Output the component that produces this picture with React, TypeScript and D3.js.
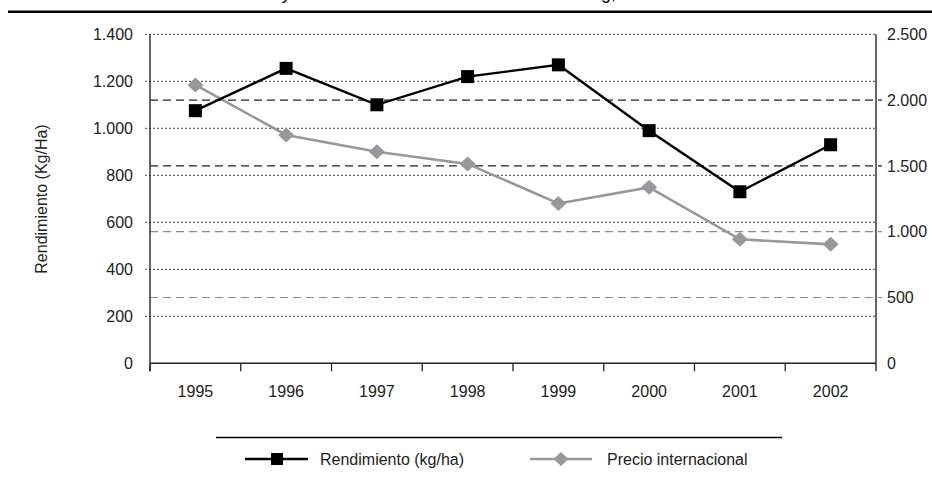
import React from "react";
import * as d3 from "d3";

const years = ["1995", "1996", "1997", "1998", "1999", "2000", "2001", "2002"];
const rendimiento = [1075, 1255, 1100, 1220, 1270, 990, 730, 930];
const precio = [2115, 1735, 1608, 1515, 1215, 1337, 942, 904];
const leftTicks = [0, 200, 400, 600, 800, 1000, 1200, 1400];
const rightTicks = [0, 500, 1000, 1500, 2000, 2500];
const legendLabels = ["Rendimiento (kg/ha)", "Precio internacional"];
const yTitle = "Rendimiento (Kg/Ha)";
const title = "Rendimiento y cotización internacional en dólares el kg, 1995-2002";

const W = 932;
const H = 479;
const FONT = "'Liberation Sans', Arial, Helvetica, sans-serif";

export default function App() {
  const left = 150;
  const right = 876;
  const top = 34.3;
  const bottom = 363.3;
  const x = d3.scaleBand<string>().domain(years).range([left, right]).padding(0);
  const yL = d3.scaleLinear().domain([0, 1400]).range([bottom, top]);
  const yR = d3.scaleLinear().domain([0, 2500]).range([bottom, top]);
  const cx = (d: string) => (x(d) as number) + x.bandwidth() / 2;

  const lineL = d3
    .line<number>()
    .x((_, i) => cx(years[i]))
    .y((v) => yL(v));
  const lineR = d3
    .line<number>()
    .x((_, i) => cx(years[i]))
    .y((v) => yR(v));

  const sq = 13;
  const diamond = (px: number, py: number, w: number, h: number) =>
    `M${px},${py - h / 2}L${px + w / 2},${py}L${px},${py + h / 2}L${px - w / 2},${py}Z`;

  const black = "#000";
  const gray = "#98989c";

  return (
    <svg
      width={W}
      height={H}
      style={{ position: "absolute", left: 0, top: 0, background: "#fff" }}
      fontFamily={FONT}
    >
      {/* cut-off title (only descenders show) */}
      <text x={177} y={-0.6} fontSize={17.8} fill="#000">
        {title}
      </text>
      <line x1={8} x2={932} y1={11.8} y2={11.8} stroke="#000" strokeWidth={2.6} />

      {/* left dotted gridlines */}
      {leftTicks
        .filter((t) => t > 0)
        .map((t) => (
          <line
            key={"gl" + t}
            x1={left - 5}
            x2={right}
            y1={yL(t)}
            y2={yL(t)}
            stroke="#444"
            strokeWidth={1}
            strokeDasharray="2,2"
          />
        ))}
      {/* right dashed gridlines */}
      {rightTicks
        .filter((t) => t > 0 && t < 2500)
        .map((t) => (
          <line
            key={"gr" + t}
            x1={left}
            x2={right + 6}
            y1={yR(t)}
            y2={yR(t)}
            stroke={t >= 1500 ? "#222" : "#8a8a8a"}
            strokeWidth={1.2}
            strokeDasharray="8,5"
          />
        ))}

      {/* axes */}
      <line x1={left} x2={left} y1={top} y2={bottom + 8} stroke="#333" strokeWidth={1.5} />
      <line x1={right} x2={right} y1={top} y2={bottom + 8} stroke="#333" strokeWidth={1.5} />
      <line x1={left} x2={right} y1={bottom} y2={bottom} stroke="#222" strokeWidth={1.5} />
      {years.map((d) => (
        <line
          key={"xt" + d}
          x1={x(d) as number}
          x2={x(d) as number}
          y1={bottom}
          y2={bottom + 8}
          stroke="#222"
          strokeWidth={1.3}
        />
      ))}

      {/* tick labels */}
      {leftTicks.map((t) => (
        <text
          key={"lt" + t}
          x={133}
          y={yL(t)}
          dy="0.36em"
          textAnchor="end"
          fontSize={16}
          fill="#222"
        >
          {d3.format(",")(t).replace(/,/g, ".")}
        </text>
      ))}
      {rightTicks.map((t) => (
        <text
          key={"rt" + t}
          x={887}
          y={yR(t)}
          dy="0.36em"
          textAnchor="start"
          fontSize={16}
          fill="#222"
        >
          {d3.format(",")(t).replace(/,/g, ".")}
        </text>
      ))}
      {years.map((d) => (
        <text key={"yl" + d} x={cx(d)} y={397} textAnchor="middle" fontSize={16} fill="#222">
          {d}
        </text>
      ))}

      {/* y title */}
      <text
        transform={`translate(41,199) rotate(-90)`}
        textAnchor="middle"
        dominantBaseline="central"
        fontSize={16}
        fill="#222"
      >
        {yTitle}
      </text>

      {/* series */}
      <path d={lineR(precio) || ""} fill="none" stroke={gray} strokeWidth={2.6} />
      {precio.map((v, i) => (
        <path key={"pd" + i} d={diamond(cx(years[i]), yR(v), 16, 15)} fill={gray} />
      ))}
      <path d={lineL(rendimiento) || ""} fill="none" stroke={black} strokeWidth={2.4} />
      {rendimiento.map((v, i) => (
        <rect
          key={"rs" + i}
          x={cx(years[i]) - sq / 2}
          y={yL(v) - sq / 2}
          width={sq}
          height={sq}
          fill={black}
        />
      ))}

      {/* legend */}
      <line x1={216} x2={782} y1={437.5} y2={437.5} stroke="#000" strokeWidth={1.3} />
      <line x1={245} x2={308} y1={459} y2={459} stroke={black} strokeWidth={2.4} />
      <rect x={277 - 6} y={459 - 6} width={12} height={12} fill={black} />
      <text x={320} y={459} dy="0.36em" fontSize={16} fill="#222">
        {legendLabels[0]}
      </text>
      <line x1={530} x2={592} y1={459} y2={459} stroke={gray} strokeWidth={2.6} />
      <path d={diamond(561, 459, 15, 14)} fill={gray} />
      <text x={607} y={459} dy="0.36em" fontSize={16} fill="#222">
        {legendLabels[1]}
      </text>
    </svg>
  );
}
